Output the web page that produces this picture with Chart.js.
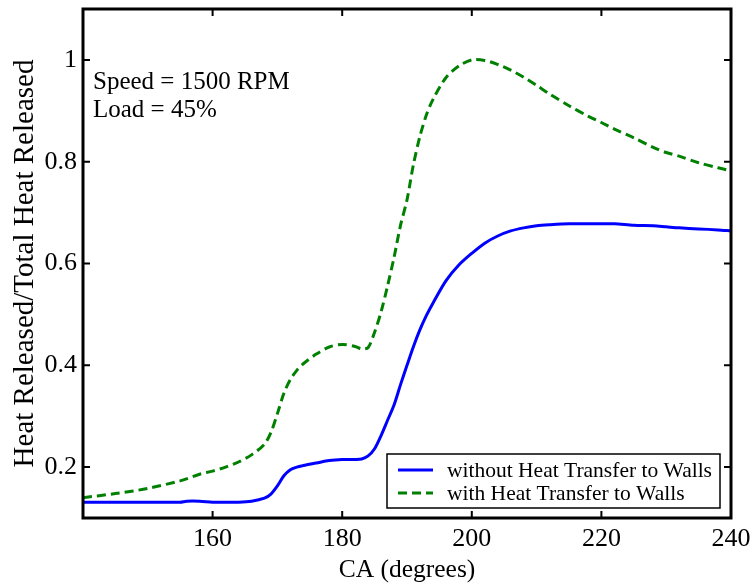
<!DOCTYPE html>
<html>
<head>
<meta charset="utf-8">
<script src="https://cdn.jsdelivr.net/npm/chart.js@4/dist/chart.umd.min.js"></script>
<style>
  html, body { margin: 0; padding: 0; background: #fff; }
  #wrap { width: 754px; height: 586px; }
</style>
</head>
<body>
<div id="wrap"><canvas id="heatChart"></canvas></div>
<script>
// crank angle (degrees)
const crankAngle = [140, 145, 150, 155, 156, 158, 160, 162, 164, 166, 168, 169, 170, 171, 172, 173, 174, 176, 178, 180,
    182, 183, 184, 185, 186, 187, 188, 189, 190, 191, 192, 193, 194, 196, 198, 200, 202, 204, 206, 208,
    210, 212, 215, 218, 220, 222, 225, 228, 230, 232, 235, 238, 240];

// normalised heat released, without heat transfer to walls
const withoutWalls = [0.131, 0.131, 0.131, 0.131, 0.133, 0.133, 0.131, 0.131, 0.131, 0.133, 0.139, 0.147, 0.163, 0.183, 0.195, 0.200, 0.203, 0.208, 0.213, 0.215,
    0.215, 0.216, 0.222, 0.236, 0.262, 0.292, 0.322, 0.362, 0.400, 0.437, 0.470, 0.498, 0.522, 0.566, 0.597, 0.620, 0.640, 0.654, 0.664, 0.670,
    0.674, 0.676, 0.678, 0.678, 0.678, 0.678, 0.675, 0.674, 0.672, 0.670, 0.668, 0.666, 0.664];

// normalised heat released, with heat transfer to walls
const withWalls = [0.140, 0.148, 0.158, 0.173, 0.177, 0.186, 0.192, 0.200, 0.210, 0.224, 0.245, 0.268, 0.305, 0.345, 0.372, 0.390, 0.403, 0.422, 0.436, 0.441,
    0.437, 0.432, 0.435, 0.465, 0.505, 0.556, 0.612, 0.675, 0.725, 0.795, 0.850, 0.892, 0.922, 0.965, 0.988, 1.000, 0.999, 0.991, 0.980, 0.966,
    0.950, 0.933, 0.910, 0.889, 0.877, 0.864, 0.847, 0.828, 0.818, 0.811, 0.798, 0.788, 0.782];

const xTickValues = [160, 180, 200, 220, 240];
const yTickValues = [0.2, 0.4, 0.6, 0.8, 1];
const seriesNames = ['without Heat Transfer to Walls', 'with Heat Transfer to Walls'];
const noteLines = ['Speed = 1500 RPM', 'Load = 45%'];

const serif = '"Liberation Serif", "DejaVu Serif", serif';

function toPoints(ys) {
    return crankAngle.map((x, i) => ({ x: x, y: ys[i] }));
}

/**
 * Frame, inward ticks on all four sides, note text and legend box
 */
const framePlugin = {
    id: 'frame',
    afterDraw(chart) {
        const ctx = chart.ctx;
        const area = chart.chartArea;
        const xs = chart.scales.x;
        const ys = chart.scales.y;
        const tick = 7;

        ctx.save();
        ctx.strokeStyle = '#000';
        ctx.lineWidth = 2;
        ctx.beginPath();
        xTickValues.forEach(v => {
            const px = xs.getPixelForValue(v);
            ctx.moveTo(px, area.bottom);
            ctx.lineTo(px, area.bottom - tick);
            ctx.moveTo(px, area.top);
            ctx.lineTo(px, area.top + tick);
        });
        yTickValues.forEach(v => {
            const py = ys.getPixelForValue(v);
            ctx.moveTo(area.left, py);
            ctx.lineTo(area.left + tick, py);
            ctx.moveTo(area.right, py);
            ctx.lineTo(area.right - tick, py);
        });
        ctx.stroke();

        ctx.lineWidth = 3;
        ctx.strokeRect(area.left, area.top, area.right - area.left, area.bottom - area.top);

        // operating point note
        ctx.fillStyle = '#000';
        ctx.font = '25px ' + serif;
        ctx.textBaseline = 'middle';
        ctx.textAlign = 'left';
        ctx.fillText(noteLines[0], area.left + 10, 82);
        ctx.fillText(noteLines[1], area.left + 10, 110);

        // legend
        const lx = 387, ly = 454, lw = 333, lh = 54;
        ctx.fillStyle = '#fff';
        ctx.fillRect(lx, ly, lw, lh);
        ctx.lineWidth = 1.5;
        ctx.strokeStyle = '#000';
        ctx.strokeRect(lx, ly, lw, lh);
        chart.data.datasets.forEach((ds, i) => {
            const cy = ly + 16 + i * 23;
            ctx.strokeStyle = ds.borderColor;
            ctx.lineWidth = ds.borderWidth;
            ctx.setLineDash(ds.borderDash || []);
            ctx.beginPath();
            ctx.moveTo(lx + 11, cy);
            ctx.lineTo(lx + 46, cy);
            ctx.stroke();
            ctx.setLineDash([]);
            ctx.fillStyle = '#000';
            ctx.font = '21.5px ' + serif;
            ctx.fillText(ds.label, lx + 60, cy + 1);
        });
        ctx.restore();
    }
};

document.addEventListener('DOMContentLoaded', function() {
    const ctx = document.getElementById('heatChart');

    new Chart(ctx, {
        type: 'line',
        data: {
            datasets: [{
                label: seriesNames[0],
                data: toPoints(withoutWalls),
                borderColor: '#0000ff',
                borderWidth: 3,
                pointRadius: 0,
                tension: 0.3,
                fill: false
            }, {
                label: seriesNames[1],
                data: toPoints(withWalls),
                borderColor: '#008000',
                borderWidth: 3,
                borderDash: [9, 5],
                pointRadius: 0,
                tension: 0.3,
                fill: false
            }]
        },
        options: {
            responsive: true,
            maintainAspectRatio: false,
            animation: false,
            layout: { padding: { top: 9, right: 23, left: 0, bottom: 0 } },
            plugins: {
                legend: { display: false },
                tooltip: { enabled: false }
            },
            scales: {
                x: {
                    type: 'linear',
                    min: 140,
                    max: 240,
                    afterBuildTicks: s => { s.ticks = xTickValues.map(v => ({ value: v })); },
                    afterFit: s => {
                        s.height = 68;
                        s.paddingLeft = 0;
                        s.paddingRight = 0;
                    },
                    grid: { display: false, drawTicks: false },
                    border: { display: false },
                    ticks: {
                        color: '#000',
                        padding: 6,
                        maxRotation: 0,
                        font: { family: serif, size: 26 }
                    },
                    title: {
                        display: true,
                        text: 'CA (degrees)',
                        color: '#000',
                        padding: { top: 0, bottom: 0 },
                        font: { family: serif, size: 25.5 }
                    }
                },
                y: {
                    type: 'linear',
                    min: 0.1,
                    max: 1.1,
                    afterBuildTicks: s => { s.ticks = yTickValues.map(v => ({ value: v })); },
                    afterFit: s => {
                        s.width = 83;
                        s.paddingTop = 0;
                        s.paddingBottom = 0;
                    },
                    grid: { display: false, drawTicks: false },
                    border: { display: false },
                    ticks: {
                        color: '#000',
                        padding: 6,
                        callback: v => String(Math.round(v * 10) / 10),
                        font: { family: serif, size: 26 }
                    },
                    title: {
                        display: true,
                        text: 'Heat Released/Total Heat Released',
                        color: '#000',
                        padding: { top: 8, bottom: 0 },
                        font: { family: serif, size: 29 }
                    }
                }
            }
        },
        plugins: [framePlugin]
    });
});
</script>
</body>
</html>
